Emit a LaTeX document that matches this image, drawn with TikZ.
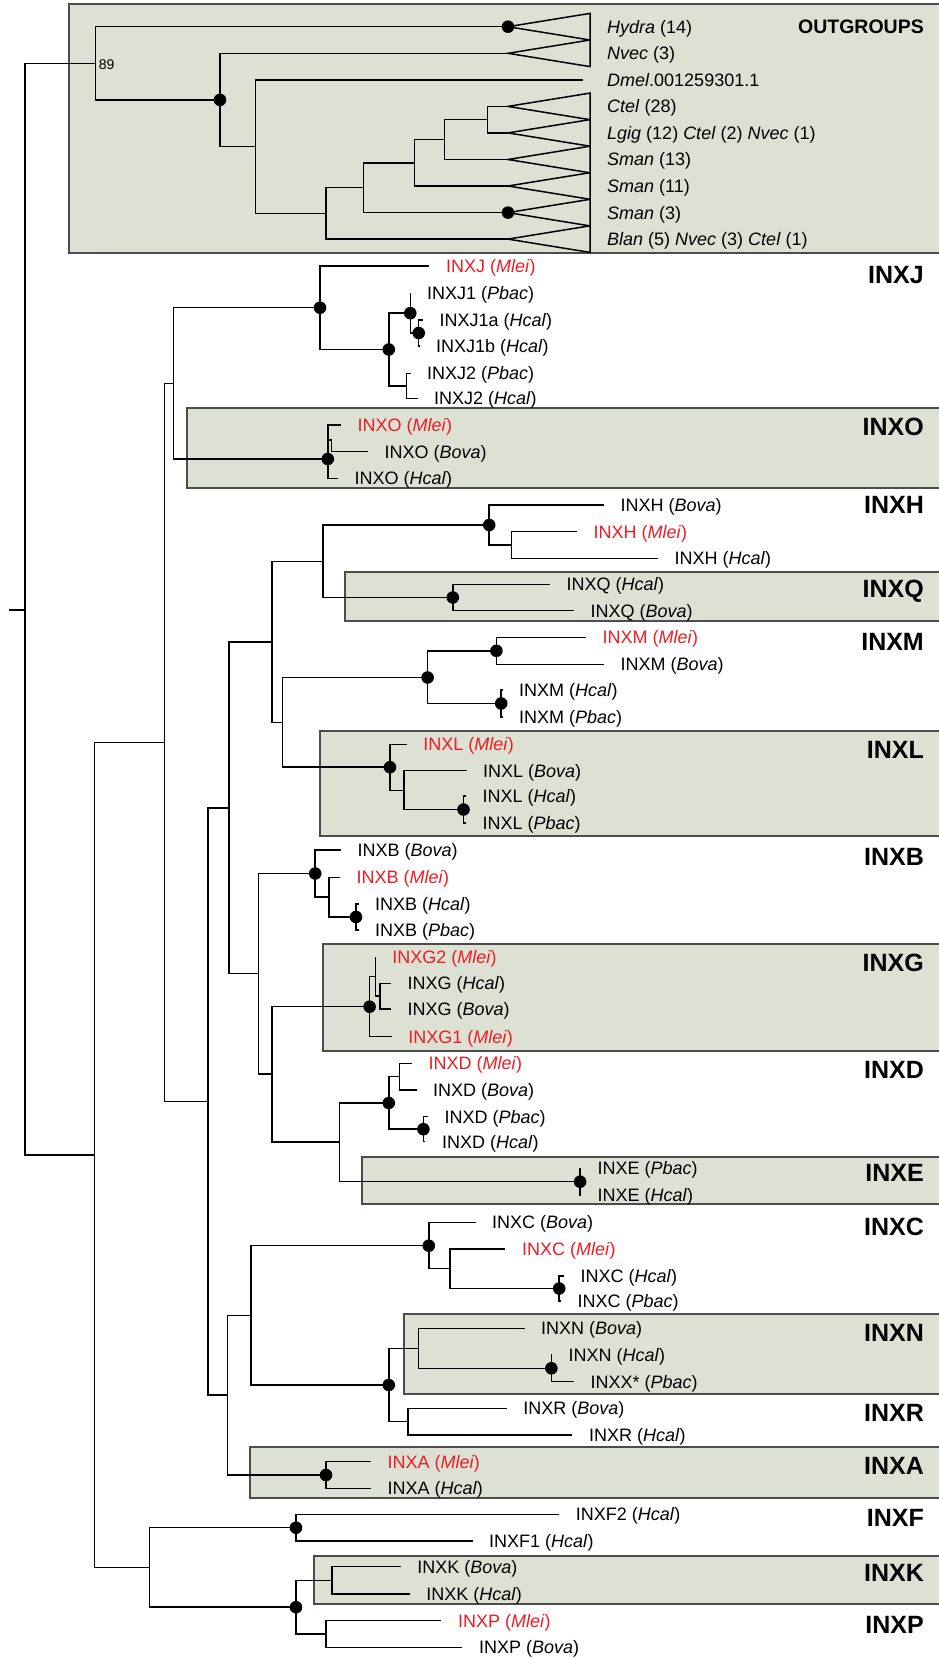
\documentclass[tikz,border=0pt]{standalone}
\usepackage{fontspec}
\setmainfont{Liberation Sans}

\definecolor{cladefill}{RGB}{220,225,211}
\definecolor{mleired}{RGB}{236,28,36}

\tikzset{
  branch/.style={line width=1.5pt},
  cladebox/.style={fill=cladefill,draw=black!70,line width=2pt},
  lab/.style={anchor=west,inner sep=0pt,text height=14pt,text depth=1.1pt,font=\fontsize{18}{20}\selectfont},
  leaf/.style={lab,xshift=16.5pt},
  mlei/.style={text=mleired},
  cladename/.style={anchor=east,inner sep=0pt,font=\bfseries\fontsize{25}{28}\selectfont},
  groupname/.style={anchor=east,inner sep=0pt,font=\bfseries\fontsize{19.5}{22}\selectfont},
}

\begin{document}
\begin{tikzpicture}[x=1pt,y=-1pt]
\useasboundingbox (0,0) rectangle (938,1659);

\draw[cladebox] (68.8,4) rectangle (945,252.7);
\draw[cladebox] (186.6,407.7) rectangle (945,488.3);
\draw[cladebox] (345,572.3) rectangle (945,620.7);
\draw[cladebox] (320,730.7) rectangle (945,836);
\draw[cladebox] (323,944.3) rectangle (945,1050.7);
\draw[cladebox] (361.8,1156.7) rectangle (945,1204.3);
\draw[cladebox] (404.3,1314.3) rectangle (945,1394.3);
\draw[cladebox] (250,1447.3) rectangle (945,1497.7);
\draw[cladebox] (314,1555.7) rectangle (945,1604.3);

\coordinate (rs) at (9,610);
\coordinate (root) at (25,610);
\coordinate (og) at (95.7,63.3);
\coordinate (ig) at (94.5,1155);

\coordinate (ogB) at (220,99.9);
\coordinate (ogC) at (255.4,146.6);
\coordinate (ogD) at (326,213.4);
\coordinate (ogE) at (363.6,187.7);
\coordinate (ogF) at (414.5,162.8);
\coordinate (ogG) at (444.4,139.5);
\coordinate (ogH) at (487.4,119.6);
\coordinate (hyd) at (508,26.7);
\coordinate (nve) at (508,53.3);
\coordinate (dme) at (583,79.8);
\coordinate (cte) at (508,106.4);
\coordinate (lgi) at (508,132.9);
\coordinate (s13) at (508,159.5);
\coordinate (s11) at (508,186);
\coordinate (sm3) at (508,212.6);
\coordinate (bla) at (508,239.1);

\coordinate (iJ) at (164.5,742.5);
\coordinate (iK) at (173.4,383.4);
\coordinate (iL) at (208.1,1101.7);
\coordinate (iM) at (229,808);
\coordinate (iN) at (272,642);
\coordinate (iO) at (323,561.3);
\coordinate (iP) at (282.3,722.3);
\coordinate (iR) at (258.4,973.7);
\coordinate (iS) at (272.1,1074.2);
\coordinate (iT) at (339.7,1142.2);
\coordinate (iU) at (227.3,1395);
\coordinate (iV) at (251.2,1315.5);
\coordinate (iW) at (149.5,1567.4);

\coordinate (jA) at (320,307.7);
\coordinate (jB) at (388.8,349.5);
\coordinate (jC) at (410.3,313.2);
\coordinate (jD) at (406.7,385.8);
\coordinate (jE) at (418.7,333);
\coordinate (jMlei) at (429.4,266);
\coordinate (jPbac1) at (410.3,293.3);
\coordinate (jHcal1a) at (423,320);
\coordinate (jHcal1b) at (419.5,346);
\coordinate (jPbac2) at (410.5,373.3);
\coordinate (jHcal2) at (417.5,398.3);

\coordinate (oA) at (327.8,459);
\coordinate (oB) at (331.5,440);
\coordinate (oMlei) at (341,425);
\coordinate (oBova) at (368,451.7);
\coordinate (oHcal) at (338,478.3);

\coordinate (hA) at (489.2,525);
\coordinate (hB) at (511.4,545);
\coordinate (hBova) at (604,505);
\coordinate (hMlei) at (577,531.7);
\coordinate (hHcal) at (658,558.3);

\coordinate (qA) at (452.8,597.5);
\coordinate (qHcal) at (550,584.3);
\coordinate (qBova) at (574,610.7);

\coordinate (mA) at (427.6,677.5);
\coordinate (mB) at (496.4,650.8);
\coordinate (mC) at (501.2,703.5);
\coordinate (mMlei) at (586,637.3);
\coordinate (mBova) at (604,664.3);
\coordinate (mHcal) at (502.5,690);
\coordinate (mPbac) at (502.5,717);

\coordinate (lA) at (390,767.2);
\coordinate (lB) at (404,790.5);
\coordinate (lC) at (463.5,809.5);
\coordinate (lMlei) at (406.7,744.3);
\coordinate (lBova) at (466.5,770.7);
\coordinate (lHcal) at (466,796);
\coordinate (lPbac) at (466,823);

\coordinate (bA) at (315.2,873.5);
\coordinate (bB) at (329,897);
\coordinate (bC) at (356,917);
\coordinate (bBova) at (341,850);
\coordinate (bMlei) at (340,877.3);
\coordinate (bHcal) at (358.5,904);
\coordinate (bPbac) at (358.5,930);

\coordinate (gA) at (369.6,1006.7);
\coordinate (gB) at (375.6,976.7);
\coordinate (gC) at (379.8,996.2);
\coordinate (gMlei2) at (375.6,956.7);
\coordinate (gHcal) at (391,983.3);
\coordinate (gBova) at (391,1009);
\coordinate (gMlei1) at (391.7,1036.7);

\coordinate (dA) at (388.8,1103);
\coordinate (dB) at (399.5,1076.7);
\coordinate (dC) at (423.4,1129.2);
\coordinate (dMlei) at (412,1063.3);
\coordinate (dBova) at (416.5,1090);
\coordinate (dPbac) at (428,1116.7);
\coordinate (dHcal) at (425.4,1141.7);

\coordinate (eA) at (580.1,1181.7);
\coordinate (ePbac) at (581,1168.3);
\coordinate (eHcal) at (581,1195);

\coordinate (cA) at (428.8,1245.7);
\coordinate (cB) at (449.8,1268.7);
\coordinate (cC) at (559.2,1288.5);
\coordinate (cBova) at (475.5,1222.3);
\coordinate (cMlei) at (505.4,1249);
\coordinate (cHcal) at (564,1276);
\coordinate (cPbac) at (561,1301);

\coordinate (nA) at (388.8,1385);
\coordinate (nB) at (418.7,1348.3);
\coordinate (nC) at (551.4,1368.3);
\coordinate (rA) at (408,1421.7);
\coordinate (nBova) at (524.5,1328.3);
\coordinate (nHcal) at (552,1355);
\coordinate (nPbac) at (574,1381.7);
\coordinate (rBova) at (506.6,1408.3);
\coordinate (rHcal) at (572.4,1435);

\coordinate (aA) at (326,1475);
\coordinate (aMlei) at (370.8,1461.7);
\coordinate (aHcal) at (370.8,1488.3);

\coordinate (fA) at (296,1527.7);
\coordinate (fF2) at (559.2,1514.3);
\coordinate (fF1) at (472.5,1541);

\coordinate (kp) at (296,1607.2);
\coordinate (kA) at (332,1580.3);
\coordinate (pA) at (326,1634);
\coordinate (kBova) at (400.7,1566.7);
\coordinate (kHcal) at (409.7,1594);
\coordinate (pMlei) at (441.4,1620.7);
\coordinate (pBova) at (462.3,1647.3);

\draw[branch] (rs) -- (root) (root) |- (og) (root) |- (ig);
\draw[branch] (og) |- (hyd) (og) |- (ogB) (ogB) |- (nve) (ogB) |- (ogC);
\draw[branch] (ogC) |- (dme) (ogC) |- (ogD) (ogD) |- (ogE) (ogD) |- (bla);
\draw[branch] (ogE) |- (ogF) (ogE) |- (sm3) (ogF) |- (ogG) (ogF) |- (s11);
\draw[branch] (ogG) |- (ogH) (ogG) |- (s13) (ogH) |- (cte) (ogH) |- (lgi);
\draw[branch] (hyd) -- ++(82,-13.3) -- ++(0,26.6) -- cycle;
\draw[branch] (nve) -- ++(82,-13.3) -- ++(0,26.6) -- cycle;
\draw[branch] (cte) -- ++(82,-13.3) -- ++(0,26.6) -- cycle;
\draw[branch] (lgi) -- ++(82,-13.3) -- ++(0,26.6) -- cycle;
\draw[branch] (s13) -- ++(82,-13.3) -- ++(0,26.6) -- cycle;
\draw[branch] (s11) -- ++(82,-13.3) -- ++(0,26.6) -- cycle;
\draw[branch] (sm3) -- ++(82,-13.3) -- ++(0,26.6) -- cycle;
\draw[branch] (bla) -- ++(82,-13.3) -- ++(0,26.6) -- cycle;

\draw[branch] (ig) |- (iJ) (ig) |- (iW) (iJ) |- (iK) (iJ) |- (iL);
\draw[branch] (iL) |- (iM) (iL) |- (iU) (iM) |- (iN) (iM) |- (iR);
\draw[branch] (iN) |- (iO) (iN) |- (iP) (iR) |- (bA) (iR) |- (iS);
\draw[branch] (iS) |- (gA) (iS) |- (iT) (iT) |- (dA) (iT) |- (eA);
\draw[branch] (iU) |- (iV) (iU) |- (aA) (iV) |- (cA) (iV) |- (nA);
\draw[branch] (iK) |- (jA) (iK) |- (oA) (iO) |- (hA) (iO) |- (qA);
\draw[branch] (iP) |- (mA) (iP) |- (lA) (iW) |- (fA) (iW) |- (kp);

\draw[branch] (jA) |- (jMlei) (jA) |- (jB) (jB) |- (jC) (jB) |- (jD);
\draw[branch] (jC) |- (jPbac1) (jC) |- (jE) (jE) |- (jHcal1a) (jE) |- (jHcal1b);
\draw[branch] (jD) |- (jPbac2) (jD) |- (jHcal2);
\draw[branch] (oA) |- (oMlei) (oA) |- (oB) (oB) |- (oBova) (oA) |- (oHcal);
\draw[branch] (hA) |- (hBova) (hA) |- (hB) (hB) |- (hMlei) (hB) |- (hHcal);
\draw[branch] (qA) |- (qHcal) (qA) |- (qBova);
\draw[branch] (mA) |- (mB) (mA) |- (mC) (mB) |- (mMlei) (mB) |- (mBova);
\draw[branch] (mC) |- (mHcal) (mC) |- (mPbac);
\draw[branch] (lA) |- (lMlei) (lA) |- (lB) (lB) |- (lBova) (lB) |- (lC);
\draw[branch] (lC) |- (lHcal) (lC) |- (lPbac);
\draw[branch] (bA) |- (bBova) (bA) |- (bB) (bB) |- (bMlei) (bB) |- (bC);
\draw[branch] (bC) |- (bHcal) (bC) |- (bPbac);
\draw[branch] (gA) |- (gB) (gA) |- (gMlei1) (gB) |- (gMlei2) (gB) |- (gC);
\draw[branch] (gC) |- (gHcal) (gC) |- (gBova);
\draw[branch] (dA) |- (dB) (dA) |- (dC) (dB) |- (dMlei) (dB) |- (dBova);
\draw[branch] (dC) |- (dPbac) (dC) |- (dHcal);
\draw[branch] (eA) |- (ePbac) (eA) |- (eHcal);
\draw[branch] (cA) |- (cBova) (cA) |- (cB) (cB) |- (cMlei) (cB) |- (cC);
\draw[branch] (cC) |- (cHcal) (cC) |- (cPbac);
\draw[branch] (nA) |- (nB) (nA) |- (rA) (nB) |- (nBova) (nB) |- (nC);
\draw[branch] (nC) |- (nHcal) (nC) |- (nPbac) (rA) |- (rBova) (rA) |- (rHcal);
\draw[branch] (aA) |- (aMlei) (aA) |- (aHcal);
\draw[branch] (fA) |- (fF2) (fA) |- (fF1);
\draw[branch] (kp) |- (kA) (kp) |- (pA) (kA) |- (kBova) (kA) |- (kHcal);
\draw[branch] (pA) |- (pMlei) (pA) |- (pBova);

\fill (hyd) circle (6.3pt);
\fill (ogB) circle (6.3pt);
\fill (sm3) circle (6.3pt);
\fill (jA) circle (6.3pt);
\fill (jB) circle (6.3pt);
\fill (jC) circle (6.3pt);
\fill (jE) circle (6.3pt);
\fill (oA) circle (6.3pt);
\fill (hA) circle (6.3pt);
\fill (qA) circle (6.3pt);
\fill (mA) circle (6.3pt);
\fill (mB) circle (6.3pt);
\fill (mC) circle (6.3pt);
\fill (lA) circle (6.3pt);
\fill (lC) circle (6.3pt);
\fill (bA) circle (6.3pt);
\fill (bC) circle (6.3pt);
\fill (gA) circle (6.3pt);
\fill (dA) circle (6.3pt);
\fill (dC) circle (6.3pt);
\fill (eA) circle (6.3pt);
\fill (cA) circle (6.3pt);
\fill (cC) circle (6.3pt);
\fill (nA) circle (6.3pt);
\fill (nC) circle (6.3pt);
\fill (aA) circle (6.3pt);
\fill (fA) circle (6.3pt);
\fill (kp) circle (6.3pt);

\node[anchor=west,inner sep=0pt,font=\fontsize{14}{16}\selectfont] (bs89) at (98.7,65) {89};

\node[lab] (thyd) at (607,26.7) {\textit{Hydra} (14)};
\node[lab] (tnve) at (607,53.3) {\textit{Nvec} (3)};
\node[lab] (tdme) at (607,79.8) {\textit{Dmel}.001259301.1};
\node[lab] (tcte) at (607,106.4) {\textit{Ctel} (28)};
\node[lab] (tlgi) at (607,132.9) {\textit{Lgig} (12) \textit{Ctel} (2) \textit{Nvec} (1)};
\node[lab] (ts13) at (607,159.5) {\textit{Sman} (13)};
\node[lab] (ts11) at (607,186) {\textit{Sman} (11)};
\node[lab] (tsm3) at (607,212.6) {\textit{Sman} (3)};
\node[lab] (tbla) at (607,239.1) {\textit{Blan} (5) \textit{Nvec} (3) \textit{Ctel} (1)};

\node[leaf,mlei] (tjMlei) at (jMlei) {INXJ (\textit{Mlei})};
\node[leaf] (tjPbac1) at (jPbac1) {INXJ1 (\textit{Pbac})};
\node[leaf] (tjHcal1a) at (jHcal1a) {INXJ1a (\textit{Hcal})};
\node[leaf] (tjHcal1b) at (jHcal1b) {INXJ1b (\textit{Hcal})};
\node[leaf] (tjPbac2) at (jPbac2) {INXJ2 (\textit{Pbac})};
\node[leaf] (tjHcal2) at (jHcal2) {INXJ2 (\textit{Hcal})};
\node[leaf,mlei] (toMlei) at (oMlei) {INXO (\textit{Mlei})};
\node[leaf] (toBova) at (oBova) {INXO (\textit{Bova})};
\node[leaf] (toHcal) at (oHcal) {INXO (\textit{Hcal})};
\node[leaf] (thBova) at (hBova) {INXH (\textit{Bova})};
\node[leaf,mlei] (thMlei) at (hMlei) {INXH (\textit{Mlei})};
\node[leaf] (thHcal) at (hHcal) {INXH (\textit{Hcal})};
\node[leaf] (tqHcal) at (qHcal) {INXQ (\textit{Hcal})};
\node[leaf] (tqBova) at (qBova) {INXQ (\textit{Bova})};
\node[leaf,mlei] (tmMlei) at (mMlei) {INXM (\textit{Mlei})};
\node[leaf] (tmBova) at (mBova) {INXM (\textit{Bova})};
\node[leaf] (tmHcal) at (mHcal) {INXM (\textit{Hcal})};
\node[leaf] (tmPbac) at (mPbac) {INXM (\textit{Pbac})};
\node[leaf,mlei] (tlMlei) at (lMlei) {INXL (\textit{Mlei})};
\node[leaf] (tlBova) at (lBova) {INXL (\textit{Bova})};
\node[leaf] (tlHcal) at (lHcal) {INXL (\textit{Hcal})};
\node[leaf] (tlPbac) at (lPbac) {INXL (\textit{Pbac})};
\node[leaf] (tbBova) at (bBova) {INXB (\textit{Bova})};
\node[leaf,mlei] (tbMlei) at (bMlei) {INXB (\textit{Mlei})};
\node[leaf] (tbHcal) at (bHcal) {INXB (\textit{Hcal})};
\node[leaf] (tbPbac) at (bPbac) {INXB (\textit{Pbac})};
\node[leaf,mlei] (tgMlei2) at (gMlei2) {INXG2 (\textit{Mlei})};
\node[leaf] (tgHcal) at (gHcal) {INXG (\textit{Hcal})};
\node[leaf] (tgBova) at (gBova) {INXG (\textit{Bova})};
\node[leaf,mlei] (tgMlei1) at (gMlei1) {INXG1 (\textit{Mlei})};
\node[leaf,mlei] (tdMlei) at (dMlei) {INXD (\textit{Mlei})};
\node[leaf] (tdBova) at (dBova) {INXD (\textit{Bova})};
\node[leaf] (tdPbac) at (dPbac) {INXD (\textit{Pbac})};
\node[leaf] (tdHcal) at (dHcal) {INXD (\textit{Hcal})};
\node[leaf] (tePbac) at (ePbac) {INXE (\textit{Pbac})};
\node[leaf] (teHcal) at (eHcal) {INXE (\textit{Hcal})};
\node[leaf] (tcBova) at (cBova) {INXC (\textit{Bova})};
\node[leaf,mlei] (tcMlei) at (cMlei) {INXC (\textit{Mlei})};
\node[leaf] (tcHcal) at (cHcal) {INXC (\textit{Hcal})};
\node[leaf] (tcPbac) at (cPbac) {INXC (\textit{Pbac})};
\node[leaf] (tnBova) at (nBova) {INXN (\textit{Bova})};
\node[leaf] (tnHcal) at (nHcal) {INXN (\textit{Hcal})};
\node[leaf] (tnPbac) at (nPbac) {INXX* (\textit{Pbac})};
\node[leaf] (trBova) at (rBova) {INXR (\textit{Bova})};
\node[leaf] (trHcal) at (rHcal) {INXR (\textit{Hcal})};
\node[leaf,mlei] (taMlei) at (aMlei) {INXA (\textit{Mlei})};
\node[leaf] (taHcal) at (aHcal) {INXA (\textit{Hcal})};
\node[leaf] (tfF2) at (fF2) {INXF2 (\textit{Hcal})};
\node[leaf] (tfF1) at (fF1) {INXF1 (\textit{Hcal})};
\node[leaf] (tkBova) at (kBova) {INXK (\textit{Bova})};
\node[leaf] (tkHcal) at (kHcal) {INXK (\textit{Hcal})};
\node[leaf,mlei] (tpMlei) at (pMlei) {INXP (\textit{Mlei})};
\node[leaf] (tpBova) at (pBova) {INXP (\textit{Bova})};

\node[groupname] (nmout) at (924,26.5) {OUTGROUPS};
\node[cladename] (nmj) at (924,275) {INXJ};
\node[cladename] (nmo) at (924,426.7) {INXO};
\node[cladename] (nmh) at (924,505) {INXH};
\node[cladename] (nmq) at (924,591.7) {INXQ};
\node[cladename] (nmm) at (924,641.7) {INXM};
\node[cladename] (nml) at (924,750) {INXL};
\node[cladename] (nmb) at (924,856.7) {INXB};
\node[cladename] (nmg) at (924,963.3) {INXG};
\node[cladename] (nmd) at (924,1070) {INXD};
\node[cladename] (nme) at (924,1173) {INXE};
\node[cladename] (nmc) at (924,1226.7) {INXC};
\node[cladename] (nmn) at (924,1333.3) {INXN};
\node[cladename] (nmr) at (924,1413.3) {INXR};
\node[cladename] (nma) at (924,1466) {INXA};
\node[cladename] (nmf) at (924,1518.3) {INXF};
\node[cladename] (nmk) at (924,1573.3) {INXK};
\node[cladename] (nmp) at (924,1625) {INXP};
\end{tikzpicture}
\end{document}
